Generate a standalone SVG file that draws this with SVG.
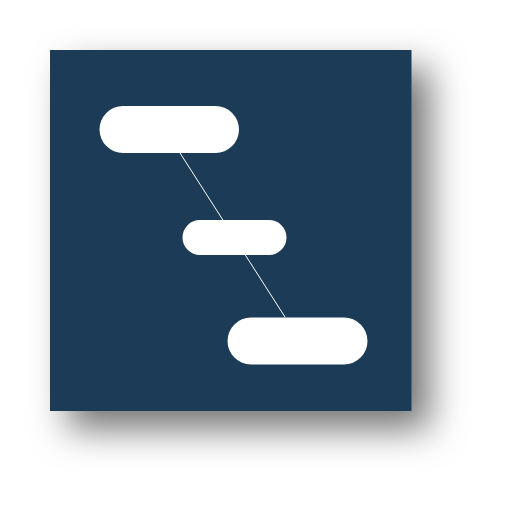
<svg xmlns="http://www.w3.org/2000/svg" width="510" height="510" viewBox="0 0 510 510">
<defs>
<filter id="sh" x="-30%" y="-30%" width="170%" height="170%">
<feDropShadow dx="18" dy="18" stdDeviation="18" flood-color="#000" flood-opacity="0.55"/>
</filter>
</defs>
<style>
.node{fill:#ffffff;}
.edge{stroke:#ffffff;stroke-width:1;fill:none;}
</style>
<rect x="50" y="50" width="361.5" height="361" fill="#1b3a57" filter="url(#sh)"/>
<g id="connectors">
<line class="edge" x1="180" y1="153" x2="285" y2="317"/>
</g>
<g id="node1"><rect class="node" x="99.5" y="106" width="139.5" height="47" rx="23.5"/></g>
<g id="node2"><rect class="node" x="182.5" y="220" width="104" height="35" rx="17.5"/></g>
<g id="node3"><rect class="node" x="227.5" y="317.5" width="140" height="47" rx="23.5"/></g>
</svg>
